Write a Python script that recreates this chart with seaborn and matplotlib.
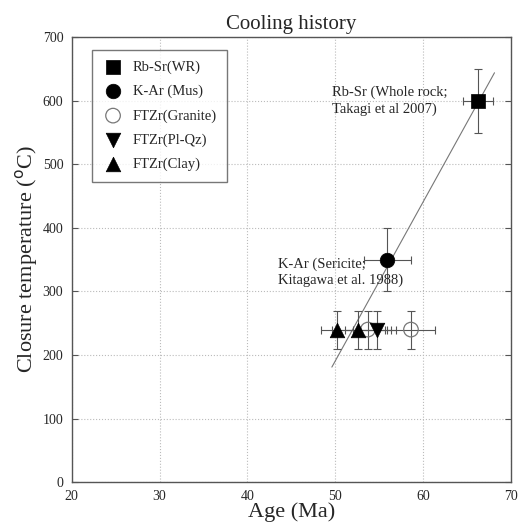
import numpy as np
import pandas as pd
import matplotlib
matplotlib.use("Agg")
import matplotlib.pyplot as plt
import seaborn as sns

# datos
labels = ["Rb-Sr(WR)", "K-Ar (Mus)", "FTZr(Granite)", "FTZr(Pl-Qz)", "FTZr(Clay)"]
markers = ["s", "o", "o", "v", "^"]
filled = [True, True, False, True, True]

age = [[66.2], [55.9], [53.7, 58.6], [54.7], [50.2, 52.6]]
age_err = [[1.7], [2.7], [2.6, 2.7], [2.2], [1.8, 3.0]]
temp = [[600], [350], [240, 240], [240], [240, 240]]
temp_err = [[50], [50], [30, 30], [30], [30, 30]]

fit_age = [49.6, 68.1]
fit_temp = [181, 644]

sns.set_style("white")
plt.rcParams["font.family"] = ["Liberation Serif", "DejaVu Serif"]

fig = plt.figure(figsize=(5.27, 5.31), dpi=100)
ax = fig.add_axes([0.136, 0.092, 0.834, 0.838])

# recta de ajuste
sns.lineplot(x=fit_age, y=fit_temp, ax=ax, color="#777777", lw=0.8, zorder=2)

for lab, m, f, xs, xe, ys, ye in zip(labels, markers, filled, age, age_err, temp, temp_err):
    ax.errorbar(xs, ys, xerr=xe, yerr=ye, fmt="none", ecolor="#555555",
                elinewidth=0.8, capsize=3, capthick=0.8, zorder=3)
    df = pd.DataFrame({"age": xs, "temp": ys})
    if f:
        sns.scatterplot(data=df, x="age", y="temp", marker=m, s=110 if m != "s" else 100,
                        color="black", edgecolor="black", linewidth=0.5,
                        ax=ax, label=lab, zorder=4)
    else:
        sns.scatterplot(data=df, x="age", y="temp", marker=m, s=110,
                        facecolor="none", edgecolor="#777777", linewidth=0.9,
                        ax=ax, label=lab, zorder=4)

ax.text(49.6, 600, "Rb-Sr (Whole rock;\nTakagi et al 2007)", fontsize=10.5,
        va="center", ha="left", linespacing=1.3)
ax.text(43.5, 330, "K-Ar (Sericite;\nKitagawa et al. 1988)", fontsize=10.5,
        va="center", ha="left", linespacing=1.3)

ax.set_xlim(20, 70)
ax.set_ylim(0, 700)
ax.set_xticks(np.arange(20, 71, 10))
ax.set_yticks(np.arange(0, 701, 100))
ax.grid(True, color="#bbbbbb", linestyle=":", linewidth=0.8)
ax.tick_params(direction="in", length=4, labelsize=10, right=True, top=False,
               left=True, bottom=False, pad=6, color="#555555")
for s in ax.spines.values():
    s.set_color("#555555")
    s.set_linewidth(1.0)

ax.set_xlabel("Age (Ma)", fontsize=16, labelpad=-1)
ax.set_ylabel("Closure temperature ($^{\\rm o}$C)", fontsize=16, labelpad=2)
ax.set_title("Cooling history", fontsize=15, pad=6)

leg = ax.legend(loc="upper left", bbox_to_anchor=(0.046, 0.971), borderaxespad=0,
                frameon=True, fancybox=False, edgecolor="#555555", fontsize=10.5,
                borderpad=0.7, labelspacing=0.75, handletextpad=0.6,
                handlelength=1.5)
leg.get_frame().set_linewidth(1.0)

fig.savefig("out.png", dpi=100)
